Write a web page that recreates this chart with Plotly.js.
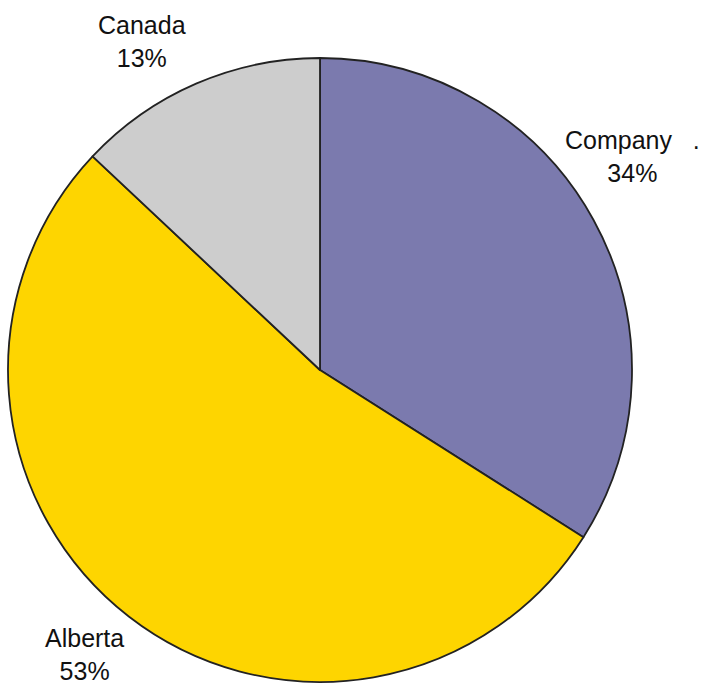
<!DOCTYPE html>
<html>
<head>
<meta charset="utf-8">
<script src="https://cdn.plot.ly/plotly-3.0.1.min.js"></script>
<style>html,body{margin:0;padding:0;background:#fff;}#chart{width:704px;height:688px;}</style>
</head>
<body>
<div id="chart"></div>
<script>
var labels = ['Company', 'Alberta', 'Canada'];
var values = [34, 53, 13];
var colors = ['#7b7aae', '#fed500', '#cdcdcd'];
var labelPos = [[0.898, 0.773], [0.1207, 0.048], [0.2024, 0.940]];

var annotations = labels.map(function (l, i) {
  return {
    xref: 'paper', yref: 'paper', x: labelPos[i][0], y: labelPos[i][1],
    xanchor: 'center', yanchor: 'middle', showarrow: false,
    text: (i === 0 ? l + '\u00a0\u00a0\u00a0.' : l) + '<br>' + values[i] + '%',
    font: {family: 'Liberation Sans, Arial, sans-serif', size: 25, color: '#111'}
  };
});

var trace = {
  type: 'pie',
  labels: labels,
  values: values,
  sort: false,
  direction: 'clockwise',
  rotation: 0,
  textinfo: 'none',
  hoverinfo: 'label+percent',
  marker: {colors: colors, line: {color: '#222', width: 1.8}},
  domain: {x: [8/704, 632/704], y: [6/688, 630/688]},
  showlegend: false
};

Plotly.newPlot('chart', [trace], {
  width: 704, height: 688,
  margin: {l: 0, r: 0, t: 0, b: 0},
  paper_bgcolor: '#fff',
  showlegend: false,
  annotations: annotations
}, {displayModeBar: false, staticPlot: true});
</script>
</body>
</html>
